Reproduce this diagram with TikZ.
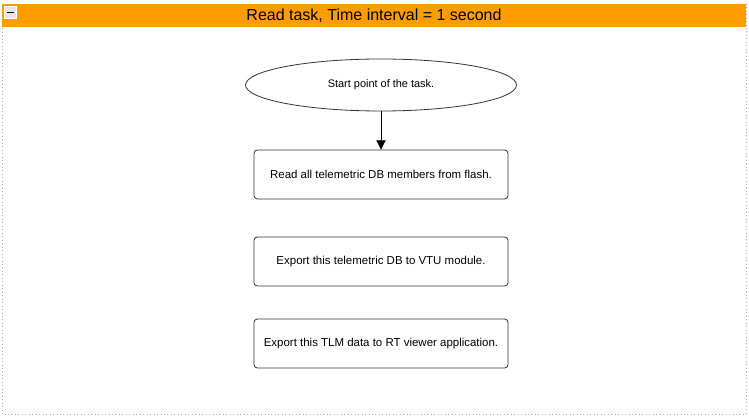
\documentclass[tikz,border=0pt]{standalone}
\usepackage{fontspec}
\setmainfont{Liberation Sans}
\usetikzlibrary{shapes.geometric,arrows.meta}
\definecolor{framecol}{RGB}{170,165,215}
\definecolor{bandcol}{RGB}{255,156,0}
\begin{document}
\begin{tikzpicture}[x=0.75pt,y=-0.75pt,
  stepbox/.style={draw=black!80,rounded corners=2.5pt,minimum width=254*0.75pt,minimum height=49*0.75pt,font=\fontsize{8.6}{10}\selectfont,line width=0.6pt},
  startell/.style={draw=black!80,ellipse,minimum width=271*0.75pt,minimum height=52*0.75pt,font=\fontsize{8.2}{10}\selectfont,inner sep=0pt,line width=0.6pt},
  frame/.style={draw=framecol,dotted,line width=0.6pt}]
\useasboundingbox (0,0) rectangle (749,420);
\fill[white] (0,0) rectangle (749,420);
\draw[frame] (2,4) rectangle (746,414);
\fill[bandcol] (2,4) rectangle (746,27);
\node[font=\fontsize{12}{14}\selectfont] (title) at (374,16) {Read task, Time interval = 1 second};
% collapse icon
\node[draw=white,line width=0.8pt,fill=black!10,minimum width=12*0.75pt,minimum height=12*0.75pt,inner sep=0pt] (icon) at (10.5,12.5) {};
\fill[black] (7,11.7) rectangle (14,13.5);
\node[startell] (start) at (381,85) {\raisebox{-1.5pt}{Start point of the task.}};
\node[stepbox] (read) at (381,174.5) {\raisebox{-1pt}{Read all telemetric DB members from flash.}};
\node[stepbox] (vtu) at (381,261.5) {\raisebox{-1pt}{Export this telemetric DB to VTU module.}};
\node[stepbox] (rt) at (381,343.5) {\raisebox{-1pt}{Export this TLM data to RT viewer application.}};
\draw[-{Triangle[length=7pt,width=7pt]},line width=0.6pt] (start) -- (read);
\end{tikzpicture}
\end{document}
